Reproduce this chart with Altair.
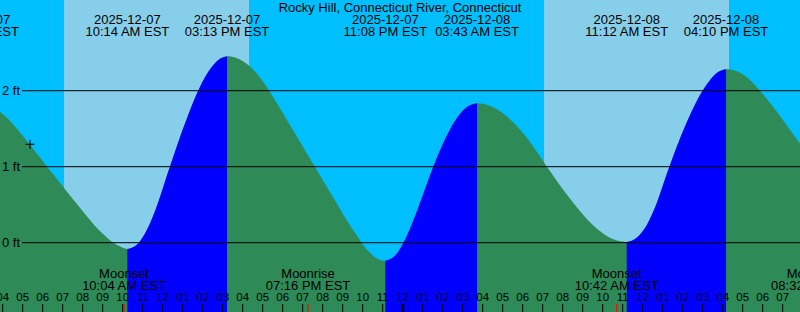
import altair as alt
import pandas as pd

TITLE = "Rocky Hill, Connecticut River, Connecticut"
FONT = "Liberation Sans"

# ---- tide curve (local time "MM-DD HH:MM", height in ft) ----
curve_time = [
    "12-07 03:50", "12-07 04:20", "12-07 04:50", "12-07 05:20", "12-07 05:50",
    "12-07 06:20", "12-07 06:50", "12-07 07:20", "12-07 07:50", "12-07 08:20",
    "12-07 08:50", "12-07 09:20", "12-07 09:50", "12-07 10:14", "12-07 10:44",
    "12-07 11:14", "12-07 11:44", "12-07 12:14", "12-07 12:44", "12-07 13:14",
    "12-07 13:44", "12-07 14:14", "12-07 14:44", "12-07 15:13", "12-07 15:43",
    "12-07 16:13", "12-07 16:43", "12-07 17:13", "12-07 17:43", "12-07 18:13",
    "12-07 18:43", "12-07 19:13", "12-07 19:43", "12-07 20:13", "12-07 20:43",
    "12-07 21:13", "12-07 21:43", "12-07 22:13", "12-07 22:43", "12-07 23:08",
    "12-07 23:38", "12-08 00:08", "12-08 00:38", "12-08 01:08", "12-08 01:38",
    "12-08 02:08", "12-08 02:38", "12-08 03:08", "12-08 03:43", "12-08 04:13",
    "12-08 04:43", "12-08 05:13", "12-08 05:43", "12-08 06:13", "12-08 06:43",
    "12-08 07:13", "12-08 07:43", "12-08 08:13", "12-08 08:43", "12-08 09:13",
    "12-08 09:43", "12-08 10:13", "12-08 10:43", "12-08 11:12", "12-08 11:42",
    "12-08 12:12", "12-08 12:42", "12-08 13:12", "12-08 13:42", "12-08 14:12",
    "12-08 14:42", "12-08 15:12", "12-08 15:42", "12-08 16:10", "12-08 16:40",
    "12-08 17:10", "12-08 17:40", "12-08 18:10", "12-08 18:40", "12-08 19:10",
    "12-08 19:40", "12-08 20:00",
]
curve_ft = [
    1.73, 1.61, 1.46, 1.30, 1.13,
    0.96, 0.80, 0.63, 0.47, 0.31,
    0.16, 0.04, -0.045, -0.083, -0.02,
    0.18, 0.50, 0.90, 1.29, 1.65,
    1.975, 2.228, 2.395, 2.453, 2.428,
    2.351, 2.224, 2.045, 1.83, 1.61,
    1.39, 1.17, 0.95, 0.73, 0.51,
    0.29, 0.09, -0.094, -0.207, -0.237,
    -0.165, 0.05, 0.36, 0.72, 1.07,
    1.37, 1.61, 1.77, 1.834, 1.814,
    1.755, 1.659, 1.531, 1.376, 1.195,
    0.995, 0.81, 0.63, 0.462, 0.309,
    0.182, 0.086, 0.029, 0.01, 0.066,
    0.230, 0.52, 0.90, 1.26, 1.58,
    1.86, 2.08, 2.233, 2.282, 2.258,
    2.184, 2.06, 1.905, 1.735, 1.56,
    1.375, 1.25,
]

# rising intervals (low -> high)
rise_start = ["12-07 10:14", "12-07 23:08", "12-08 11:12"]
rise_end = ["12-07 15:13", "12-08 03:43", "12-08 16:10"]

# tide event labels (top)
tide_time = ["12-07 02:43", "12-07 10:14", "12-07 15:13", "12-07 23:08",
             "12-08 03:43", "12-08 11:12", "12-08 16:10"]
tide_date = ["2025-12-07", "2025-12-07", "2025-12-07", "2025-12-07",
             "2025-12-08", "2025-12-08", "2025-12-08"]
tide_label = ["02:43 AM EST", "10:14 AM EST", "03:13 PM EST", "11:08 PM EST",
              "03:43 AM EST", "11:12 AM EST", "04:10 PM EST"]

# daylight
day_start = ["12-07 07:04", "12-08 07:04"]
day_end = ["12-07 16:19", "12-08 16:19"]

# moon events
moon_time = ["12-07 10:04", "12-07 19:16", "12-08 10:42", "12-08 20:32"]
moon_kind = ["Moonset", "Moonrise", "Moonset", "Moonrise"]
moon_label = ["10:04 AM EST", "07:16 PM EST", "10:42 AM EST", "08:32 PM EST"]

# datum lines
level_ft = [0, 1, 2]
level_label = ["0 ft", "1 ft", "2 ft"]

# hour ticks (hours since 2025-12-07 00:00)
tick_hours = list(range(4, 44))

# "now" marker
now_time = "12-07 05:22"
now_ft = 1.295


def hrs(s):
    day = int(s[3:5])
    hh, mm = int(s[6:8]), int(s[9:11])
    return (day - 7) * 24 + hh + mm / 60.0


# ---- scales (20 px per hour, 76 px per ft) ----
X0 = 4 - 2.7 / 20.0
X1 = X0 + 40
Y_MAX = 242.7 / 76.0
Y_MIN = Y_MAX - 312 / 76.0
xs = alt.Scale(domain=[X0, X1], nice=False, zero=False)
ys = alt.Scale(domain=[Y_MIN, Y_MAX], nice=False, zero=False)

curve_df = pd.DataFrame({"h": [hrs(t) for t in curve_time], "ft": curve_ft})

rows = []
for i, (a, b) in enumerate(zip(rise_start, rise_end)):
    ha, hb = hrs(a), hrs(b)
    for t, f in zip(curve_time, curve_ft):
        ht = hrs(t)
        if ha - 1e-9 <= ht <= hb + 1e-9:
            rows.append({"h": ht, "ft": f, "seg": i})
rise_df = pd.DataFrame(rows)

day_df = pd.DataFrame({"a": [hrs(t) for t in day_start], "b": [hrs(t) for t in day_end]})
tide_df = pd.DataFrame({"h": [hrs(t) for t in tide_time], "d": tide_date, "t": tide_label})
moon_df = pd.DataFrame({"h": [hrs(t) for t in moon_time], "k": moon_kind, "t": moon_label})
lvl_df = pd.DataFrame({"ft": level_ft, "lab": level_label})
tick_df = pd.DataFrame({
    "h": tick_hours,
    "lab": [f"{(h % 12) or 12:02d}" for h in tick_hours],
    "w": [3 if h % 24 == 0 else 1 for h in tick_hours],
})
now_df = pd.DataFrame({"h": [hrs(now_time)], "ft": [now_ft]})

X = lambda f: alt.X(f, scale=xs, axis=None)

day_layer = alt.Chart(day_df).mark_rect(color="#87CEEB").encode(x=X("a:Q"), x2="b:Q")

fall_area = alt.Chart(curve_df).mark_area(color="#2E8B57", interpolate="monotone", clip=True).encode(
    x=X("h:Q"), y=alt.Y("ft:Q", scale=ys, axis=None), y2=alt.datum(Y_MIN)
)
rise_area = alt.Chart(rise_df).mark_area(color="#0000FF", interpolate="monotone", clip=True).encode(
    x=X("h:Q"), y=alt.Y("ft:Q", scale=ys, axis=None), y2=alt.datum(Y_MIN), detail="seg:N"
)

lines = alt.Chart(lvl_df).mark_rule(color="black", strokeWidth=1).encode(
    y=alt.Y("ft:Q", scale=ys, axis=None), x=alt.value(22), x2=alt.value(800)
)
lvl_text = alt.Chart(lvl_df).mark_text(
    font=FONT, fontSize=13, align="right", baseline="middle", color="black"
).encode(y=alt.Y("ft:Q", scale=ys, axis=None), x=alt.value(20), text="lab:N")

ticks = alt.Chart(tick_df).mark_rule(color="black").encode(
    x=X("h:Q"), y=alt.value(304), y2=alt.value(312),
    strokeWidth=alt.StrokeWidth("w:Q", scale=None),
)
tick_text = alt.Chart(tick_df).mark_text(
    font=FONT, fontSize=11.5, align="center", baseline="alphabetic", color="black"
).encode(x=X("h:Q"), y=alt.value(301), text="lab:N")

moon_ticks = alt.Chart(moon_df).mark_rule(color="red", strokeWidth=1).encode(
    x=X("h:Q"), y=alt.value(304), y2=alt.value(312)
)
moon_kind_text = alt.Chart(moon_df).mark_text(
    font=FONT, fontSize=13, align="center", baseline="alphabetic", color="black"
).encode(x=X("h:Q"), y=alt.value(278), text="k:N")
moon_time_text = alt.Chart(moon_df).mark_text(
    font=FONT, fontSize=13, align="center", baseline="alphabetic", color="black"
).encode(x=X("h:Q"), y=alt.value(290), text="t:N")

tide_date_text = alt.Chart(tide_df).mark_text(
    font=FONT, fontSize=13, align="center", baseline="alphabetic", color="black"
).encode(x=X("h:Q"), y=alt.value(24), text="d:N")
tide_time_text = alt.Chart(tide_df).mark_text(
    font=FONT, fontSize=13, align="center", baseline="alphabetic", color="black"
).encode(x=X("h:Q"), y=alt.value(36), text="t:N")

title_text = alt.Chart(pd.DataFrame({"t": [TITLE]})).mark_text(
    font=FONT, fontSize=13, align="center", baseline="alphabetic", color="black"
).encode(x=alt.value(400), y=alt.value(12), text="t:N")

now_mark = alt.Chart(now_df).mark_point(
    shape="M-1,0H1M0,-1V1", size=81, filled=False, color="black", strokeWidth=1, opacity=1
).encode(x=X("h:Q"), y=alt.Y("ft:Q", scale=ys, axis=None))

chart = alt.layer(
    day_layer, fall_area, rise_area, lines, lvl_text, ticks, tick_text,
    moon_ticks, moon_kind_text, moon_time_text,
    tide_date_text, tide_time_text, title_text, now_mark,
).properties(
    width=800, height=312, padding=0,
    autosize=alt.AutoSizeParams(type="none"),
    background="#00BFFF",
).configure_view(stroke=None, fill="#00BFFF")

chart.save("out.html", embed_options={"renderer": "svg", "actions": False})
